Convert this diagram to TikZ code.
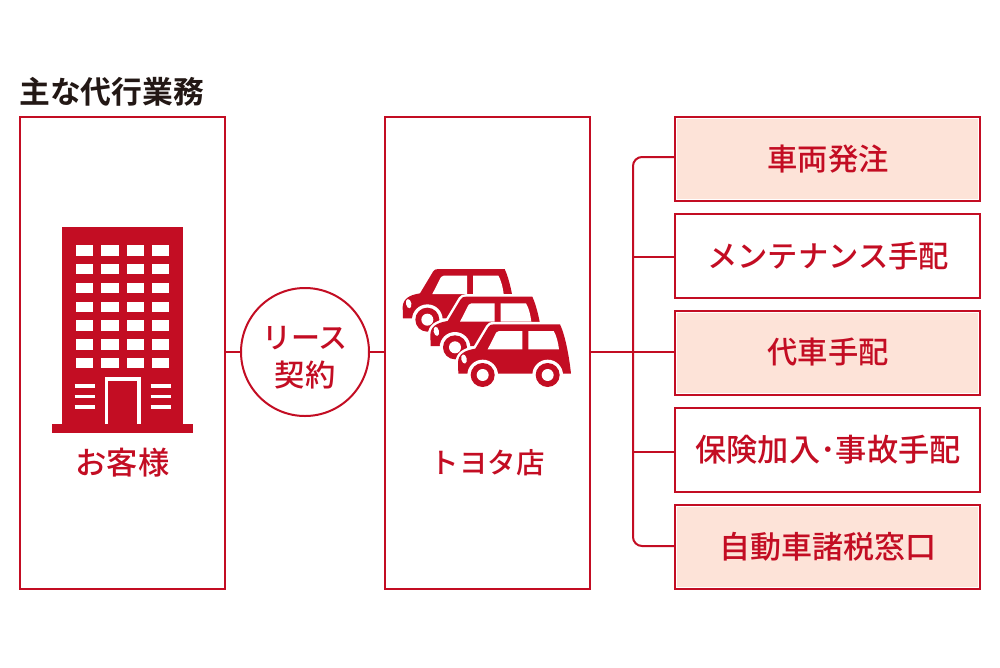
\documentclass[tikz,border=0pt]{standalone}
\usepackage{fontspec}
\newfontfamily\jp{Noto Sans CJK JP Medium}
\newfontfamily\jpb{Noto Sans CJK JP Bold}
\definecolor{tred}{HTML}{C30D23}
\definecolor{tpink}{HTML}{FDE3D8}
\definecolor{tink}{HTML}{231815}
\newcommand{\carbody}{(190,356) -- (189,322) .. controls (190,298) and (208,286) .. (241,281)
      -- (280,216) .. controls (284,210) and (288,208) .. (296,208) -- (495,208)
      .. controls (510,240) and (522,300) .. (528,356) -- cycle}
\newcommand{\carshape}[1]{%
  \begin{scope}[shift={#1}]
    \path[draw=white,line width=5pt,line join=round] \carbody;
    \path[fill=tred] \carbody;
    \fill[white] (278,283) -- (304,232) .. controls (306,229) and (308,228) .. (312,228) -- (382,228) -- (382,283) -- cycle;
    \fill[white] (400,228) -- (476,228) .. controls (484,240) and (490,265) .. (492,283) -- (400,283) -- cycle;
    \fill[white,rotate around={12:(207,312)}] (207,312) ellipse (8 and 14);
    \foreach \wx in {263,458} {
      \fill[white] (\wx,360) circle (46);
      \fill[tred] (\wx,360) circle (36);
      \fill[white] (\wx,360) circle (18);
    }
  \end{scope}}
\tikzset{
  frame/.style={draw=tred,line width=2pt,fill=white,rectangle,inner sep=0pt},
  leftbox/.style={frame,minimum width=205pt,minimum height=472pt},
  task/.style={frame,minimum width=305pt,minimum height=84pt},
  shaded/.style={task,fill=tpink},
  wire/.style={draw=tred,line width=2pt},
  label/.style={inner sep=0pt,text=tred,font=\jp\fontsize{30.3}{36}\selectfont},
}
\begin{document}
\begin{tikzpicture}[x=1pt,y=-1pt]
\useasboundingbox (0,0) rectangle (1000,667);
\fill[white] (0,0) rectangle (1000,667);
\node[inner sep=0pt,text=tink,font=\jpb\fontsize{30.8}{36}\selectfont,anchor=west] (title) at (19,92) {主な代行業務};
\node[leftbox] (cust) at (122.5,353) {};
\node[leftbox] (shop) at (487.5,353) {};
\node[shaded] (t1) at (827.5,159) {};
\node[task] (t2) at (827.5,256) {};
\node[shaded] (t3) at (827.5,353) {};
\node[task] (t4) at (827.5,450) {};
\node[shaded] (t5) at (827.5,547) {};
\foreach \b in {t1,t3,t5}
  \draw[white,line width=.7pt] ([xshift=2.6pt,yshift=-2.6pt]\b.north west) rectangle ([xshift=-2.6pt,yshift=2.6pt]\b.south east);
\node[label] (l1) at (828,159) {車両発注};
\node[label] (l2) at (828,256) {メンテナンス手配};
\node[label] (l3) at (828,352) {代車手配};
\node[label,font=\jp\fontsize{31.2}{36}\selectfont] (l4) at (828,450) {保険加入･事故手配};
\node[label,font=\jp\fontsize{31}{36}\selectfont] (l5) at (828,547) {自動車諸税窓口};
\node[draw=tred,line width=2pt,circle,minimum size=128pt,inner sep=0pt] (lease) at (305,352) {};
\node[label,font=\jp\fontsize{29}{36}\selectfont] (leasea) at (305,338) {リース};
\node[label] (leaseb) at (305,375) {契約};
\node[label,font=\jp\fontsize{31.3}{36}\selectfont] (custl) at (122.5,463) {お客様};
\node[label,font=\jp\fontsize{28.5}{36}\selectfont] (shopl) at (487.5,463) {トヨタ店};
\coordinate (junction) at (633,352);
\draw[wire] (cust.east |- lease) -- (lease.west);
\draw[wire] (lease.east) -- (shop.west |- lease);
\draw[wire] (shop.east |- lease) -- (t3.west |- lease);
\draw[wire,rounded corners=9pt] ([yshift=2pt]t1.west) -- ([yshift=2pt]junction |- t1.west) -- ([yshift=1pt]junction |- t5.west) -- ([yshift=1pt]t5.west);
\draw[wire] ([yshift=-1pt]junction |- t2.west) -- ([yshift=-1pt]t2.west);
\draw[wire] ([yshift=-2pt]junction |- t4.west) -- ([yshift=-2pt]t4.west);
% building
\fill[tred] (62,227) rectangle (183,424);
\fill[tred] (52,424) rectangle (193,433);
\foreach \cx in {76,101.3,126.7,152} \foreach \r in {0,...,6}
  \fill[white] (\cx,245.3+18.77*\r) rectangle (\cx+17.3,255.7+18.77*\r);
\draw[white,line width=3.2pt] (106.7,424) -- (106.7,379) -- (139,379) -- (139,424);
\foreach \ly in {385.7,396.3,407} {
  \draw[white,line width=3.6pt] (74.7,\ly) -- (95,\ly);
  \draw[white,line width=3.6pt] (150.7,\ly) -- (170.7,\ly);
}
% cars
\begin{scope}[shift={(395,255)},scale=1/3]
  \carshape{(-166,-166)}
  \carshape{(-83,-83)}
  \carshape{(0,0)}
\end{scope}
\end{tikzpicture}
\end{document}
